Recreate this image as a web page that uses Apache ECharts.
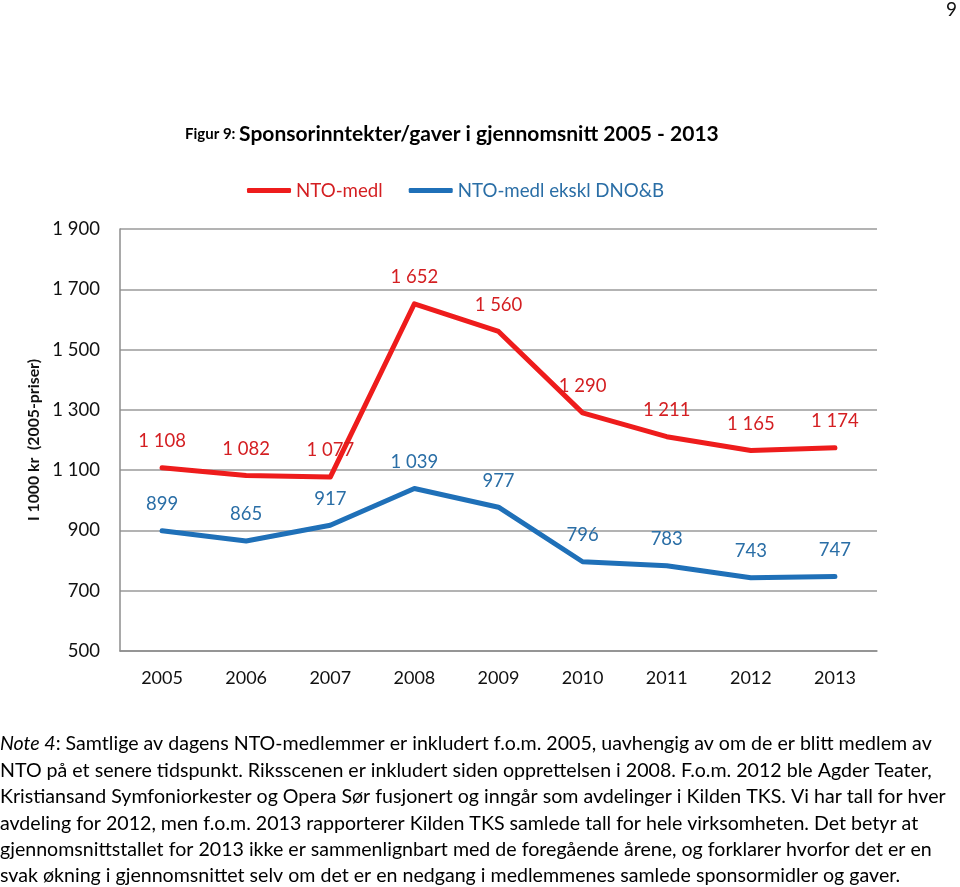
<!DOCTYPE html>
<html>
<head>
<meta charset="utf-8">
<script src="https://cdn.jsdelivr.net/npm/echarts@6/dist/echarts.min.js"></script>
<style>
html,body{margin:0;padding:0;background:#fff;}
#c{width:960px;height:887px;}
</style>
</head>
<body>
<div id="c"></div>
<script>
var years = ['2005','2006','2007','2008','2009','2010','2011','2012','2013'];
var ntoMedl = [1108, 1082, 1077, 1652, 1560, 1290, 1211, 1165, 1174];
var ntoEkskl = [899, 865, 917, 1039, 977, 796, 783, 743, 747];
var seriesNames = ['NTO-medl', 'NTO-medl ekskl DNO&B'];
var yMin = 500, yMax = 1900, yStep = 200;
var titleSmall = 'Figur 9: ';
var titleMain = 'Sponsorinntekter/gaver i gjennomsnitt 2005 - 2013';
var yAxisName = 'I 1000 kr  (2005-priser)';
var noteLines = [
  'Samtlige av dagens NTO-medlemmer er inkludert f.o.m. 2005, uavhengig av om de er blitt medlem av',
  'NTO på et senere tidspunkt. Riksscenen er inkludert siden opprettelsen i 2008. F.o.m. 2012 ble Agder Teater,',
  'Kristiansand Symfoniorkester og Opera Sør fusjonert og inngår som avdelinger i Kilden TKS. Vi har tall for hver',
  'avdeling for 2012, men f.o.m. 2013 rapporterer Kilden TKS samlede tall for hele virksomheten. Det betyr at',
  'gjennomsnittstallet for 2013 ikke er sammenlignbart med de foregående årene, og forklarer hvorfor det er en',
  'svak økning i gjennomsnittet selv om det er en nedgang i medlemmenes samlede sponsormidler og gaver.'
];

var FONT = 'Lato, "Open Sans", sans-serif';
var RED = '#ee1c1c', RED_T = '#d41f22';
var BLUE = '#1f70b8', BLUE_T = '#2a6ea6';

function fmt(v) {
  v = Math.round(v);
  if (v >= 1000) {
    var r = String(v % 1000);
    while (r.length < 3) r = '0' + r;
    return Math.floor(v / 1000) + ' ' + r;
  }
  return String(v);
}

var chart = echarts.init(document.getElementById('c'), null, {renderer: 'canvas'});

var graphics = [
  {type: 'text', left: 946, top: 0, style: {text: '9', font: '19px ' + FONT, fill: '#111'}},
  {type: 'text', left: 185, top: 124, style: {
    text: '{a|' + titleSmall + '}{b|' + titleMain + '}',
    rich: {
      a: {fontFamily: FONT, fontSize: 15, fontWeight: 'bold', color: '#111'},
      b: {fontFamily: FONT, fontSize: 21, fontWeight: 'bold', color: '#111'}
    }
  }}
];
noteLines.forEach(function (ln, i) {
  var txt = (i === 0) ? '{i|Note 4}{n|: ' + ln + '}' : '{n|' + ln + '}';
  graphics.push({type: 'text', left: 0, top: 734 + i * 26.4, style: {
    text: txt,
    rich: {
      i: {fontFamily: FONT, fontSize: 19.6, fontStyle: 'italic', color: '#111'},
      n: {fontFamily: FONT, fontSize: 19.6, color: '#111'}
    }
  }});
});

chart.setOption({
  animation: false,
  backgroundColor: '#fff',
  textStyle: {fontFamily: FONT},
  grid: {left: 120, right: 83, top: 229, bottom: 236, containLabel: false},
  legend: {
    left: 242, top: 176,
    itemWidth: 44, itemHeight: 5, itemGap: 26,
    icon: 'roundRect',
    data: [
      {name: seriesNames[0], textStyle: {color: RED_T}, itemStyle: {color: RED}},
      {name: seriesNames[1], textStyle: {color: BLUE_T}, itemStyle: {color: BLUE}}
    ],
    textStyle: {fontFamily: FONT, fontSize: 18.7}
  },
  xAxis: {
    type: 'category',
    data: years,
    boundaryGap: true,
    axisLine: {lineStyle: {color: '#8c8c8c', width: 1.5}},
    axisTick: {show: false},
    axisLabel: {color: '#111', fontSize: 18, fontFamily: FONT, margin: 18}
  },
  yAxis: {
    type: 'value',
    min: yMin, max: yMax, interval: yStep,
    name: yAxisName,
    nameLocation: 'middle',
    nameGap: 76,
    nameRotate: 90,
    nameTextStyle: {fontFamily: FONT, fontSize: 15.8, fontWeight: 'bold', color: '#111'},
    axisLine: {show: true, lineStyle: {color: '#8c8c8c', width: 1.5}},
    axisTick: {show: false},
    splitLine: {lineStyle: {color: '#9a9a9a', width: 1.5}},
    axisLabel: {color: '#111', fontSize: 18.5, fontFamily: FONT, margin: 20, formatter: fmt}
  },
  series: [
    {
      name: seriesNames[0], type: 'line', data: ntoMedl,
      symbol: 'circle', symbolSize: 0.1, showSymbol: true,
      lineStyle: {color: RED, width: 5, cap: 'round', join: 'round'},
      itemStyle: {color: RED},
      label: {show: true, position: 'top', distance: 17, color: RED_T, fontSize: 18.5, fontFamily: FONT,
        formatter: function (p) { return fmt(p.value); }}
    },
    {
      name: seriesNames[1], type: 'line', data: ntoEkskl,
      symbol: 'circle', symbolSize: 0.1, showSymbol: true,
      lineStyle: {color: BLUE, width: 5, cap: 'round', join: 'round'},
      itemStyle: {color: BLUE},
      label: {show: true, position: 'top', distance: 17, color: BLUE_T, fontSize: 18.5, fontFamily: FONT,
        formatter: function (p) { return fmt(p.value); }}
    }
  ],
  graphic: graphics
});
</script>
</body>
</html>
